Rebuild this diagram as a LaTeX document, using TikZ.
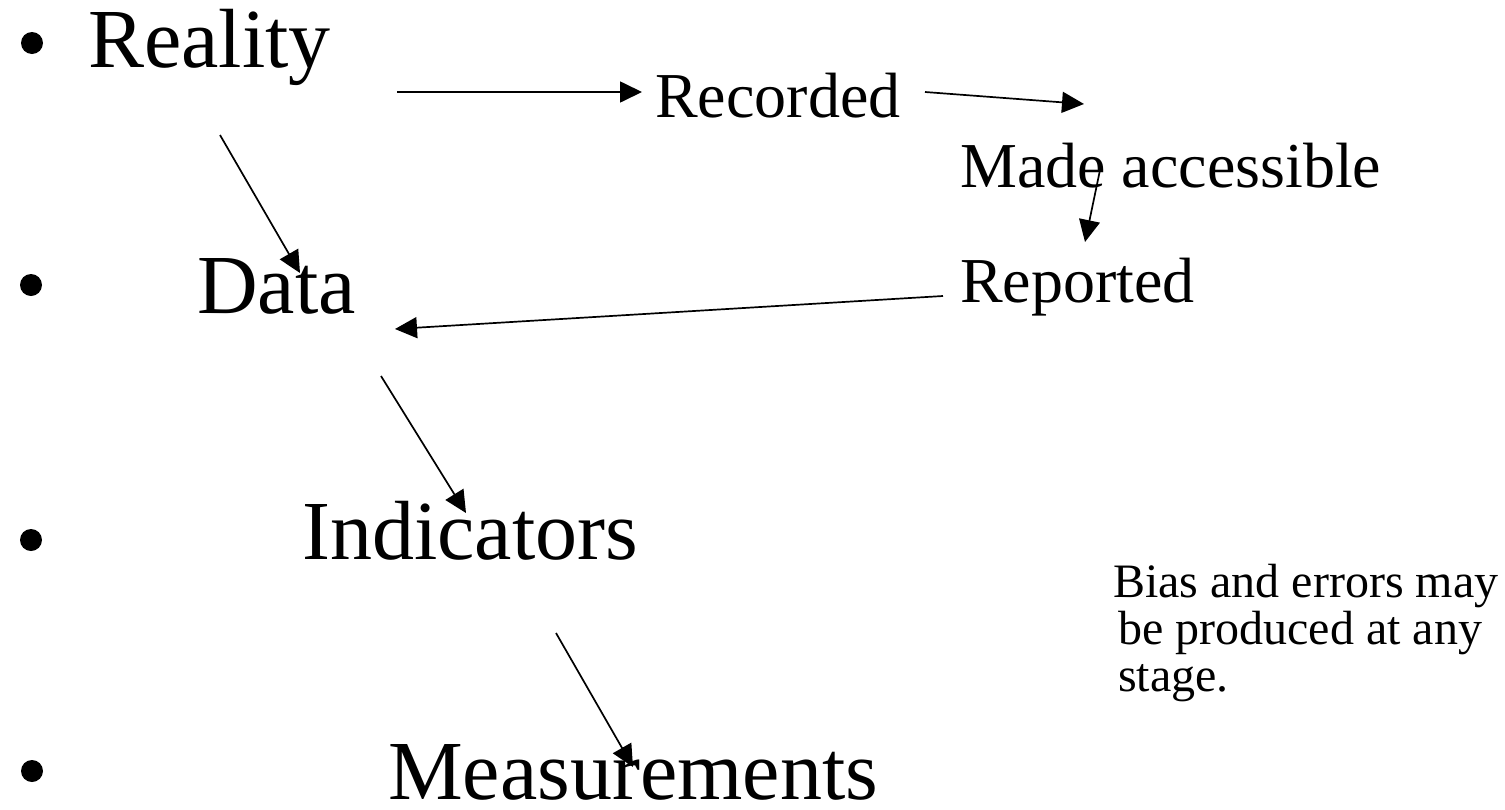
\documentclass[tikz,border=0pt]{standalone}
\usepackage{fontspec}
\setmainfont{Liberation Serif}
\usetikzlibrary{arrows.meta}
\begin{document}
\begin{tikzpicture}[x=1pt,y=-1pt,
  big/.style={anchor=base west,inner sep=0pt,font=\fontsize{84}{84}\selectfont},
  mid/.style={anchor=base west,inner sep=0pt,font=\fontsize{64}{64}\selectfont},
  small/.style={anchor=base west,inner sep=0pt,font=\fontsize{48}{48}\selectfont},
  bul/.style={circle,fill=black,inner sep=0pt,minimum size=22pt},
  arr/.style={line width=1.7pt,-{Triangle[length=22pt,width=21pt]}}]
\useasboundingbox (0,0) rectangle (1505,809);
% bullets
\node[bul] (b1) at (32,43) {};
\node[bul] (b2) at (31,285) {};
\node[bul] (b3) at (31,540) {};
\node[bul] (b4) at (32,771) {};
% main items
\node[big] (reality) at (88,67) {Reality};
\node[big] (data) at (197,313) {Data};
\node[big] (ind) at (302,559) {Indicators};
\node[big] (meas) at (388,799) {Measurements};
% flow
\node[mid] (rec) at (655,117) {Recorded};
\node[mid] (made) at (960,187) {Made accessible};
\node[mid] (rep) at (960,302) {Reported};
% note
\node[small] (n1) at (1113,597) {Bias and errors may};
\node[small] (n2) at (1118,644) {be produced at any};
\node[small] (n3) at (1118,691) {stage.};
% arrow endpoints
\coordinate (a1s) at (397,92);  \coordinate (a1e) at (642,92);
\coordinate (a2s) at (925,92);  \coordinate (a2e) at (1084,104);
\coordinate (a3s) at (1100,170); \coordinate (a3e) at (1085,242);
\coordinate (a4s) at (943,296); \coordinate (a4e) at (395,329);
\coordinate (a5s) at (220,135); \coordinate (a5e) at (300,273);
\coordinate (a6s) at (381,376); \coordinate (a6e) at (466,513);
\coordinate (a7s) at (556,633); \coordinate (a7e) at (633,767);
\draw[arr] (a1s) -- (a1e);
\draw[arr] (a2s) -- (a2e);
\draw[arr] (a3s) -- (a3e);
\draw[arr] (a4s) -- (a4e);
\draw[arr] (a5s) -- (a5e);
\draw[arr] (a6s) -- (a6e);
\draw[arr] (a7s) -- (a7e);
\end{tikzpicture}
\end{document}
